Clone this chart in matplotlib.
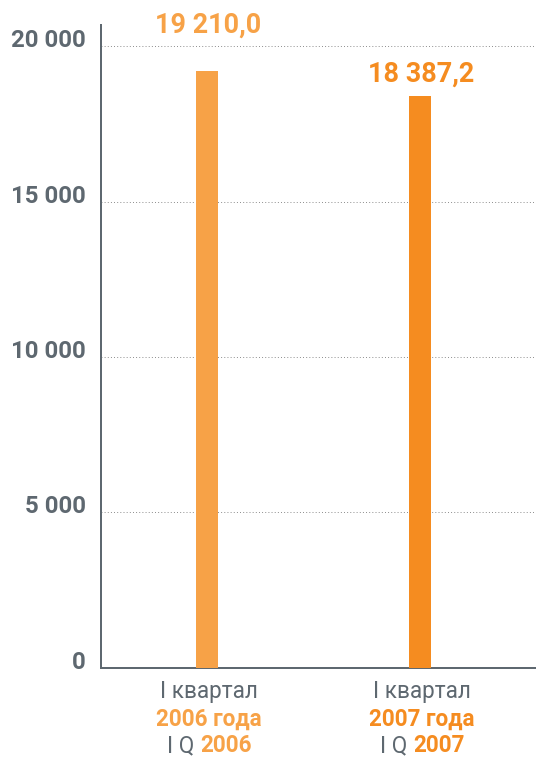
import matplotlib
matplotlib.use('Agg')
import matplotlib.pyplot as plt
import matplotlib.transforms as mtransforms
from matplotlib.offsetbox import TextArea, HPacker, VPacker, AnnotationBbox

# data
periods = ['2006', '2007']
values = [19210.0, 18387.2]
value_labels = ['19 210,0', '18 387,2']
yticks = [0, 5000, 10000, 15000, 20000]
ytick_labels = ['0', '5 000', '10 000', '15 000', '20 000']

bar_colors = ['#F7A247', '#F58C20']
grey = '#5E6870'

plt.rcParams['font.family'] = ['Roboto', 'DejaVu Sans']

fig = plt.figure(figsize=(536 / 72, 758 / 72), dpi=72)
ax = fig.add_axes([0.188, 0.119, 0.812, 0.848])

x = list(range(len(values)))
ax.bar(x, values, width=0.103, color=bar_colors, zorder=3)
ax.set_xlim(-0.498, 1.544)
ax.set_ylim(0, 20680)

# grid
for y in yticks[1:]:
    ax.axhline(y, color='#7A7A7A', lw=0.9, ls=(0, (1, 2.5)), zorder=1)

for s in ['top', 'right']:
    ax.spines[s].set_visible(False)
for s in ['left', 'bottom']:
    ax.spines[s].set_color(grey)
    ax.spines[s].set_linewidth(2)

ax.set_yticks(yticks)
ax.set_yticklabels(ytick_labels, fontsize=24, fontweight='bold', color=grey)
ax.tick_params(axis='y', length=0, pad=15)
ax.set_xticks([])
offset = mtransforms.ScaledTranslation(0, 8 / 72, fig.dpi_scale_trans)
for lab in ax.get_yticklabels():
    lab.set_transform(lab.get_transform() + offset)

# value labels above bars
label_offsets = [46, 22]
for i, v in enumerate(values):
    ax.annotate(value_labels[i], xy=(i, v), xytext=(1, label_offsets[i]),
                textcoords='offset points', ha='center', va='center',
                fontsize=27, fontweight='bold', color=bar_colors[i])

# category labels
for i, p in enumerate(periods):
    reg = dict(fontsize=22.5, color=grey)
    bold = dict(fontsize=22.5, color=bar_colors[i], fontweight='bold')
    l1 = TextArea('I квартал', textprops=reg)
    l2 = TextArea(p + ' года', textprops=bold)
    l3 = HPacker(children=[TextArea('I Q', textprops=reg),
                           TextArea(p, textprops=bold)], pad=0, sep=6)
    box = VPacker(children=[l1, l2, l3], align='center', pad=0, sep=4)
    ab = AnnotationBbox(box, xy=(i, 0), xycoords=('data', 'axes fraction'),
                        xybox=(2, -51), boxcoords='offset points',
                        box_alignment=(0.5, 0.5), frameon=False)
    ax.add_artist(ab)

fig.savefig('out.png', dpi=72)
